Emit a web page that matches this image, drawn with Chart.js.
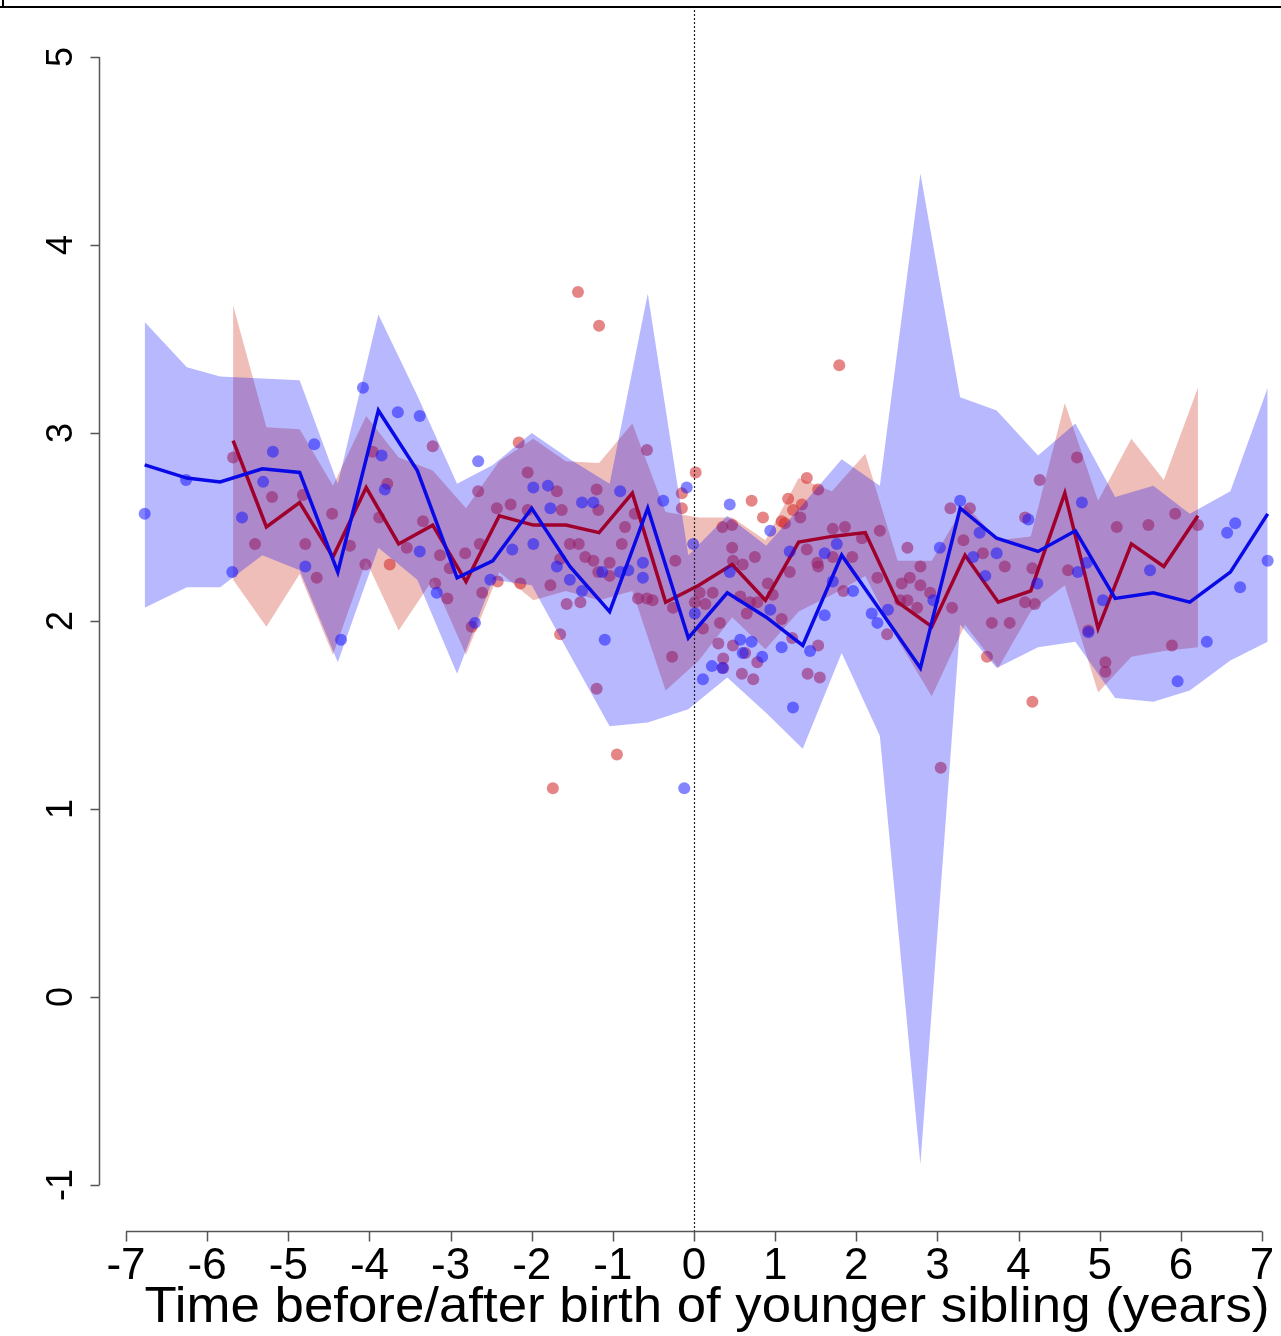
<!DOCTYPE html>
<html>
<head>
<meta charset="utf-8">
<script src="https://cdn.jsdelivr.net/npm/chart.js@4.4.0/dist/chart.umd.min.js"></script>
<style>
  html, body { margin: 0; padding: 0; background: #fff; }
  #wrap { width: 1281px; height: 1336px; }
</style>
</head>
<body>
<div id="wrap"><canvas id="sibChart" width="1281" height="1336"></canvas></div>
<script>
"use strict";

// -----------------------------
// axis ticks
// -----------------------------
const xTicks = [-7, -6, -5, -4, -3, -2, -1, 0, 1, 2, 3, 4, 5, 6, 7];
const yTicks = [-1, 0, 1, 2, 3, 4, 5];
const xTitle = "Time before/after birth of younger sibling (years)";

// -----------------------------
// blue group: bin means + interval
// -----------------------------
const blueX = [-6.77, -6.25, -5.84, -5.32, -4.86, -4.39, -3.89, -3.41, -2.92, -2.48, -2.00, -1.53, -1.04, -0.57, -0.07,
  0.41, 0.89, 1.34, 1.82, 2.29, 2.79, 3.28, 3.73, 4.24, 4.70, 5.19, 5.66, 6.11, 6.61, 7.07];
const blueMean = [2.83, 2.76, 2.74, 2.81, 2.79, 2.26, 3.12, 2.80, 2.23, 2.32, 2.60, 2.29, 2.05, 2.60, 1.91,
  2.15, 2.02, 1.87, 2.35, 2.06, 1.75, 2.60, 2.44, 2.37, 2.48, 2.12, 2.15, 2.10, 2.26, 2.57];
const blueHigh = [3.59, 3.35, 3.30, 3.29, 3.28, 2.73, 3.63, 3.20, 2.73, 2.83, 3.00, 2.86, 2.73, 3.74, 2.35,
  2.56, 2.40, 2.62, 2.86, 2.72, 4.38, 3.19, 3.12, 2.88, 3.05, 2.66, 2.72, 2.57, 2.69, 3.24];
const blueLow = [2.07, 2.18, 2.18, 2.35, 2.27, 1.78, 2.39, 2.22, 1.72, 2.22, 2.19, 1.82, 1.44, 1.46, 1.53,
  1.70, 1.51, 1.32, 1.83, 1.39, -0.89, 1.98, 1.75, 1.86, 1.89, 1.59, 1.57, 1.63, 1.79, 1.89];

// -----------------------------
// red group: bin means + interval
// -----------------------------
const redX = [-5.68, -5.27, -4.86, -4.45, -4.04, -3.64, -3.22, -2.81, -2.40, -1.98, -1.58, -1.17, -0.76, -0.35, 0.06,
  0.47, 0.88, 1.29, 1.70, 2.11, 2.51, 2.93, 3.34, 3.75, 4.15, 4.57, 4.98, 5.39, 5.79, 6.21];
const redMean = [2.96, 2.50, 2.63, 2.34, 2.71, 2.41, 2.51, 2.21, 2.56, 2.51, 2.51, 2.47, 2.68, 2.10, 2.19,
  2.30, 2.11, 2.42, 2.45, 2.47, 2.10, 1.97, 2.35, 2.10, 2.16, 2.68, 1.96, 2.41, 2.29, 2.56];
const redHigh = [3.68, 3.03, 3.02, 2.72, 3.09, 2.87, 2.80, 2.60, 2.85, 2.97, 2.85, 2.84, 3.05, 2.58, 2.55,
  2.55, 2.43, 2.76, 2.69, 2.89, 2.32, 2.32, 2.62, 2.43, 2.45, 3.16, 2.64, 2.97, 2.75, 3.24];
const redLow = [2.22, 1.97, 2.25, 1.82, 2.32, 1.95, 2.22, 1.82, 2.26, 2.11, 2.16, 2.11, 2.16, 1.63, 1.79,
  2.02, 1.85, 2.05, 2.14, 2.24, 1.90, 1.60, 1.98, 1.75, 2.05, 2.19, 1.62, 1.81, 1.84, 1.86];

// -----------------------------
// individual observations [x, y]
// -----------------------------
const redObs = [
  [-5.68, 2.87], [-5.20, 2.66], [-5.41, 2.41], [-4.79, 2.41], [-4.82, 2.67], [-4.46, 2.57], [-4.65, 2.23], [-4.24, 2.40],
  [-4.05, 2.30], [-3.75, 2.30], [-3.88, 2.55], [-3.78, 2.73], [-3.96, 2.90], [-3.54, 2.39], [-3.34, 2.53], [-3.22, 2.93],
  [-2.16, 2.95], [-2.05, 2.79], [-0.58, 2.91], [0.02, 2.79], [-0.15, 2.68], [-0.15, 2.60], [-2.66, 2.69], [-2.43, 2.60],
  [-2.26, 2.62], [-2.64, 2.41], [-3.13, 2.35], [-2.82, 2.36], [-3.01, 2.28], [-3.19, 2.20], [-3.04, 2.12], [-2.61, 2.15],
  [-2.74, 1.97], [-2.42, 2.21], [-2.14, 2.20], [-1.77, 2.19], [-2.05, 2.59], [-1.69, 2.69], [-1.63, 2.59], [-1.18, 2.59],
  [-1.20, 2.70], [-0.85, 2.50], [-0.89, 2.41], [-1.53, 2.41], [-1.42, 2.41], [-1.65, 2.33], [-1.34, 2.34], [-1.24, 2.32],
  [-1.04, 2.31], [-1.18, 2.26], [-1.04, 2.24], [-1.57, 2.09], [-1.40, 2.10], [-0.69, 2.12], [-0.58, 2.12], [-0.51, 2.11],
  [-0.73, 2.57], [-0.23, 2.32], [-0.26, 2.07], [-0.27, 1.81], [-1.65, 1.93], [-1.20, 1.64], [0.01, 2.10], [0.07, 2.15],
  [-1.43, 3.75], [-1.17, 3.57], [-1.74, 1.11], [-0.95, 1.29],
  [0.71, 2.64], [0.85, 2.55], [1.39, 2.76], [1.53, 2.70], [1.16, 2.65], [1.33, 2.62], [1.22, 2.59], [1.31, 2.55],
  [1.08, 2.53], [1.12, 2.52], [0.35, 2.50], [0.47, 2.51], [1.71, 2.49], [1.86, 2.50], [2.07, 2.44], [2.29, 2.48],
  [0.47, 2.39], [0.75, 2.34], [0.48, 2.32], [0.60, 2.30], [1.18, 2.26], [1.39, 2.38], [1.52, 2.31], [1.71, 2.34],
  [1.53, 2.29], [1.95, 2.34], [2.26, 2.23], [2.56, 2.20], [2.66, 2.23], [2.79, 2.19], [2.79, 2.29], [2.63, 2.39],
  [3.16, 2.60], [3.32, 2.43], [3.18, 2.07], [0.23, 2.15], [0.14, 2.09], [0.32, 1.99], [0.11, 1.96], [0.57, 2.13],
  [0.69, 2.10], [0.78, 2.10], [0.91, 2.20], [0.97, 2.14], [0.65, 2.04], [1.08, 2.01], [1.21, 1.91], [0.30, 1.88],
  [0.48, 1.87], [0.63, 1.83], [0.78, 1.78], [0.36, 1.80], [1.53, 1.87], [1.40, 1.72], [1.55, 1.70], [0.59, 1.72],
  [0.73, 1.69], [0.36, 1.75], [1.84, 2.16], [2.54, 2.11], [2.63, 2.11], [2.38, 1.93], [2.75, 2.07], [2.91, 2.15],
  [1.79, 3.36], [3.04, 1.22],
  [3.40, 2.60], [3.56, 2.36], [3.83, 2.29], [3.67, 1.99], [3.89, 1.99], [4.26, 2.75], [4.72, 2.87], [4.08, 2.55],
  [4.17, 2.28], [4.08, 2.10], [4.20, 2.09], [4.61, 2.27], [4.86, 1.95], [5.07, 1.78], [5.07, 1.73], [5.21, 2.50],
  [5.60, 2.51], [5.93, 2.57], [6.21, 2.51], [5.89, 1.87], [3.61, 1.81], [4.17, 1.57],
];
const blueObs = [
  [-6.77, 2.57], [-6.26, 2.75], [-5.57, 2.55], [-5.31, 2.74], [-5.19, 2.90], [-4.68, 2.94], [-5.69, 2.26], [-4.79, 2.29],
  [-4.08, 3.24], [-3.85, 2.88], [-3.81, 2.70], [-3.65, 3.11], [-3.38, 3.09], [-4.35, 1.90], [-2.66, 2.85], [-3.38, 2.37],
  [-3.17, 2.15], [-2.51, 2.22], [-1.98, 2.71], [-1.80, 2.72], [-1.77, 2.60], [-1.38, 2.63], [-1.24, 2.63], [-0.91, 2.69],
  [-0.38, 2.64], [-0.09, 2.71], [-1.98, 2.41], [-2.24, 2.38], [-1.69, 2.29], [-1.53, 2.22], [-1.38, 2.16], [-1.13, 2.26],
  [-0.91, 2.26], [-0.81, 2.27], [-0.63, 2.31], [-0.63, 2.23], [-1.10, 1.90], [-2.70, 1.99], [-0.01, 2.41], [-0.12, 1.11],
  [0.44, 2.62], [0.94, 2.48], [1.18, 2.37], [1.76, 2.41], [1.61, 2.36], [0.44, 2.26], [0.01, 2.04], [0.94, 2.06],
  [1.96, 2.16], [1.71, 2.21], [1.61, 2.03], [1.08, 1.86], [1.43, 1.84], [0.57, 1.90], [0.71, 1.89], [0.60, 1.83],
  [0.84, 1.81], [0.22, 1.76], [0.35, 1.75], [0.11, 1.69], [1.22, 1.54], [2.19, 2.04], [2.39, 2.06], [2.95, 2.11],
  [3.03, 2.39], [3.28, 2.64], [2.26, 1.99],
  [3.52, 2.47], [3.73, 2.36], [3.44, 2.34], [3.59, 2.24], [4.12, 2.54], [4.23, 2.20], [4.78, 2.63], [4.84, 2.31],
  [4.73, 2.26], [5.04, 2.11], [4.86, 1.94], [5.62, 2.27], [6.32, 1.89], [6.57, 2.47], [6.67, 2.52], [6.73, 2.18],
  [7.07, 2.32], [5.96, 1.68],
];

// -----------------------------
// helpers
// -----------------------------
const pts = (xs, ys) => xs.map((v, i) => ({ x: v, y: ys[i] }));
const obs = (list) => list.map(([x, y]) => ({ x, y }));
const FONT = '"Liberation Sans", Arial, sans-serif';

function bandSets(xs, lo, hi, color, order) {
  return [
    { type: "line", data: pts(xs, lo), borderWidth: 0, pointRadius: 0, fill: false, order: order },
    { type: "line", data: pts(xs, hi), borderWidth: 0, pointRadius: 0, fill: "-1", backgroundColor: color, order: order - 1 },
  ];
}

// base-graphics style axes, zero line and x label
const baseAxes = {
  id: "baseAxes",
  beforeDraw(chart) {
    const { ctx, width, height } = chart;
    ctx.save();
    ctx.fillStyle = "#fff";
    ctx.fillRect(0, 0, width, height);
    ctx.restore();
  },
  afterDatasetsDraw(chart) {
    const { ctx, scales: { x, y } } = chart;
    const x0 = Math.round(x.getPixelForValue(0)) + 0.5;
    const yAxisBottom = y.getPixelForValue(yTicks[0]) + 46;
    ctx.save();
    ctx.strokeStyle = "#222";
    ctx.lineWidth = 1.2;
    ctx.setLineDash([2, 2]);
    ctx.beginPath();
    ctx.moveTo(x0, 10);
    ctx.lineTo(x0, yAxisBottom);
    ctx.stroke();
    ctx.restore();
  },
  afterDraw(chart) {
    const { ctx, scales: { x, y } } = chart;
    ctx.save();

    // frame edge of the panel above
    ctx.fillStyle = "#000";
    ctx.fillRect(0, 6, chart.width, 2);
    ctx.fillRect(2, 0, 2, 7);

    ctx.strokeStyle = "#555";
    ctx.lineWidth = 1.5;
    ctx.fillStyle = "#000";

    // left axis
    const ax = Math.round(x.getPixelForValue(xTicks[0]) - 27) + 0.5;
    const yTop = y.getPixelForValue(yTicks[yTicks.length - 1]);
    const yBot = y.getPixelForValue(yTicks[0]);
    ctx.beginPath();
    ctx.moveTo(ax, yTop);
    ctx.lineTo(ax, yBot);
    yTicks.forEach((t) => {
      const py = Math.round(y.getPixelForValue(t)) + 0.5;
      ctx.moveTo(ax - 9, py);
      ctx.lineTo(ax, py);
    });
    ctx.stroke();
    ctx.font = "36px " + FONT;
    ctx.textAlign = "center";
    ctx.textBaseline = "middle";
    yTicks.forEach((t) => {
      ctx.save();
      ctx.translate(ax - 37, y.getPixelForValue(t));
      ctx.rotate(-Math.PI / 2);
      ctx.fillText(String(t), 0, 0);
      ctx.restore();
    });

    // bottom axis
    const ay = Math.round(yBot + 46) + 0.5;
    const xL = x.getPixelForValue(xTicks[0]);
    const xR = x.getPixelForValue(xTicks[xTicks.length - 1]);
    ctx.beginPath();
    ctx.moveTo(xL, ay);
    ctx.lineTo(xR, ay);
    xTicks.forEach((t) => {
      const px = Math.round(x.getPixelForValue(t)) + 0.5;
      ctx.moveTo(px, ay);
      ctx.lineTo(px, ay + 10);
    });
    ctx.stroke();
    ctx.font = "44px " + FONT;
    ctx.textBaseline = "alphabetic";
    xTicks.forEach((t) => {
      ctx.fillText(String(t), x.getPixelForValue(t), ay + 47);
    });

    // x label, squeezed to the axis width
    ctx.font = "50px " + FONT;
    const w = ctx.measureText(xTitle).width;
    const target = 1125;
    ctx.save();
    ctx.translate((xL + xR) / 2 + 13, ay + 90);
    ctx.scale(target / w, 1);
    ctx.fillText(xTitle, 0, 0);
    ctx.restore();

    ctx.restore();
  },
};

// -----------------------------
// chart
// -----------------------------
const ctx = document.getElementById("sibChart").getContext("2d");
new Chart(ctx, {
  type: "line",
  data: {
    datasets: [
      ...bandSets(redX, redLow, redHigh, "rgba(205, 40, 20, 0.3)", 10),
      {
        type: "scatter",
        data: obs(redObs),
        pointRadius: 6,
        pointBorderWidth: 0,
        backgroundColor: "rgba(210, 45, 45, 0.58)",
        order: 8,
      },
      ...bandSets(blueX, blueLow, blueHigh, "rgba(0, 0, 255, 0.28)", 7),
      {
        type: "line",
        data: pts(redX, redMean),
        borderColor: "#a0002c",
        borderWidth: 3.5,
        pointRadius: 0,
        fill: false,
        order: 5,
      },
      {
        type: "scatter",
        data: obs(blueObs),
        pointRadius: 6,
        pointBorderWidth: 0,
        backgroundColor: "rgba(20, 20, 255, 0.52)",
        order: 4,
      },
      {
        type: "line",
        data: pts(blueX, blueMean),
        borderColor: "#0a0ae6",
        borderWidth: 3.5,
        pointRadius: 0,
        fill: false,
        order: 3,
      },
    ],
  },
  options: {
    responsive: false,
    animation: false,
    events: [],
    layout: { padding: 0, autoPadding: false },
    elements: { line: { tension: 0 } },
    plugins: {
      legend: { display: false },
      tooltip: { enabled: false },
      filler: { drawTime: "beforeDatasetDraw" },
    },
    scales: {
      x: { type: "linear", display: false, min: -8.553, max: 7.234 },
      y: { type: "linear", display: false, min: -1.803, max: 5.303 },
    },
  },
  plugins: [baseAxes],
});
</script>
</body>
</html>
